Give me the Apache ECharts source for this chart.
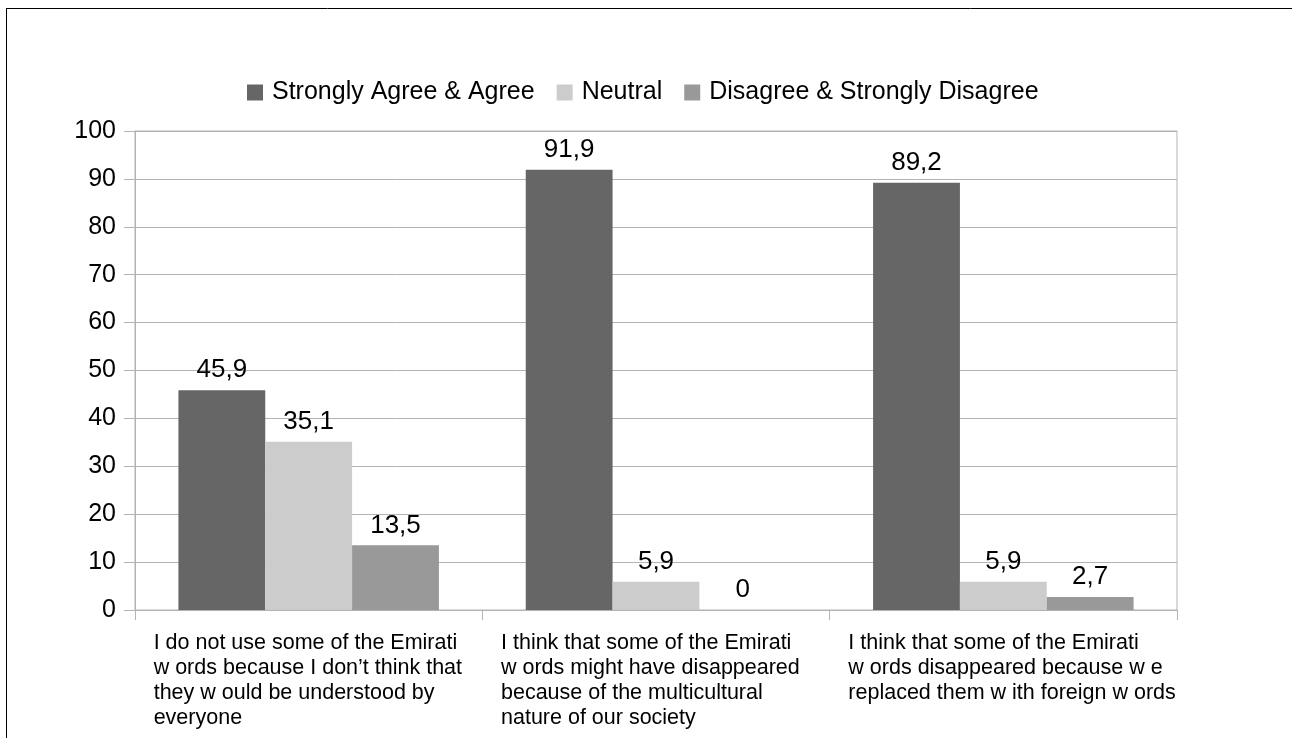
<!DOCTYPE html>
<html>
<head>
<meta charset="utf-8">
<script src="https://cdn.jsdelivr.net/npm/echarts@6/dist/echarts.min.js"></script>
<style>
  html, body { margin: 0; padding: 0; background: #fff; }
  #chart { width: 1292px; height: 738px; }
</style>
</head>
<body>
<div id="chart"></div>
<script>
// Survey statements (x-axis categories), one line per entry
const categories = [
  ['I do not use some of the Emirati', 'w ords because I don\u2019t think that', 'they w ould be understood by', 'everyone'],
  ['I think that some of the Emirati', 'w ords might have disappeared', 'because of the multicultural', 'nature of our society'],
  ['I think that some of the Emirati', 'w ords disappeared because w e', 'replaced them w ith foreign w ords']
];

// Percentage of respondents per answer group
const agreeValues    = [45.9, 91.9, 89.2];
const neutralValues  = [35.1, 5.9, 5.9];
const disagreeValues = [13.5, 0, 2.7];

const seriesNames = ['Strongly Agree & Agree', 'Neutral', 'Disagree & Strongly Disagree'];
const seriesColors = ['#666666', '#cccccc', '#999999'];

const FONT = '"Liberation Sans", Arial, sans-serif';
const GRID_COLOR = '#b3b3b3';

const chart = echarts.init(document.getElementById('chart'));

function barSeries(name, data, color) {
  return {
    name: name,
    type: 'bar',
    data: data,
    barGap: '0%',
    barCategoryGap: '25%',
    itemStyle: { color: color },
    label: {
      show: true,
      position: 'top',
      distance: 7,
      color: '#000',
      fontFamily: FONT,
      fontSize: 26,
      formatter: p => String(p.value).replace('.', ',')
    }
  };
}

chart.setOption({
  animation: false,
  backgroundColor: '#fff',
  textStyle: { fontFamily: FONT },
  graphic: [
    { type: 'line', shape: { x1: 6.5, y1: 8, x2: 6.5, y2: 738 }, style: { stroke: '#000', lineWidth: 1 } },
    { type: 'line', shape: { x1: 6, y1: 8.5, x2: 1292, y2: 8.5 }, style: { stroke: '#000', lineWidth: 1 } }
  ],
  legend: {
    top: 80,
    left: 247,
    padding: 0,
    itemWidth: 16,
    itemHeight: 16,
    itemGap: 22,
    icon: 'rect',
    textStyle: { fontFamily: FONT, fontSize: 25, color: '#000', padding: [0, 0, 0, 4] },
    data: seriesNames
  },
  grid: {
    left: 135,
    right: 115,
    top: 131,
    bottom: 128,
    show: true,
    borderColor: GRID_COLOR,
    borderWidth: 1
  },
  xAxis: {
    type: 'category',
    data: categories.map((lines, i) => String(i)),
    axisLine: { show: true, lineStyle: { color: GRID_COLOR } },
    axisTick: { show: true, length: 10, interval: 0, lineStyle: { color: GRID_COLOR } },
    axisLabel: {
      interval: 0,
      margin: 21,
      formatter: v => categories[+v].map(l => '{a|' + l + '}').join('\n'),
      rich: {
        a: {
          width: 310,
          align: 'left',
          fontFamily: FONT,
          fontSize: 21.5,
          lineHeight: 25,
          color: '#000'
        }
      }
    }
  },
  yAxis: {
    type: 'value',
    min: 0,
    max: 100,
    interval: 10,
    axisLine: { show: true, lineStyle: { color: GRID_COLOR } },
    axisTick: { show: true, length: 11, lineStyle: { color: GRID_COLOR } },
    splitLine: { show: true, lineStyle: { color: GRID_COLOR } },
    axisLabel: { margin: 19, color: '#000', fontFamily: FONT, fontSize: 25 }
  },
  series: [
    barSeries(seriesNames[0], agreeValues, seriesColors[0]),
    barSeries(seriesNames[1], neutralValues, seriesColors[1]),
    barSeries(seriesNames[2], disagreeValues, seriesColors[2])
  ]
});
</script>
</body>
</html>
